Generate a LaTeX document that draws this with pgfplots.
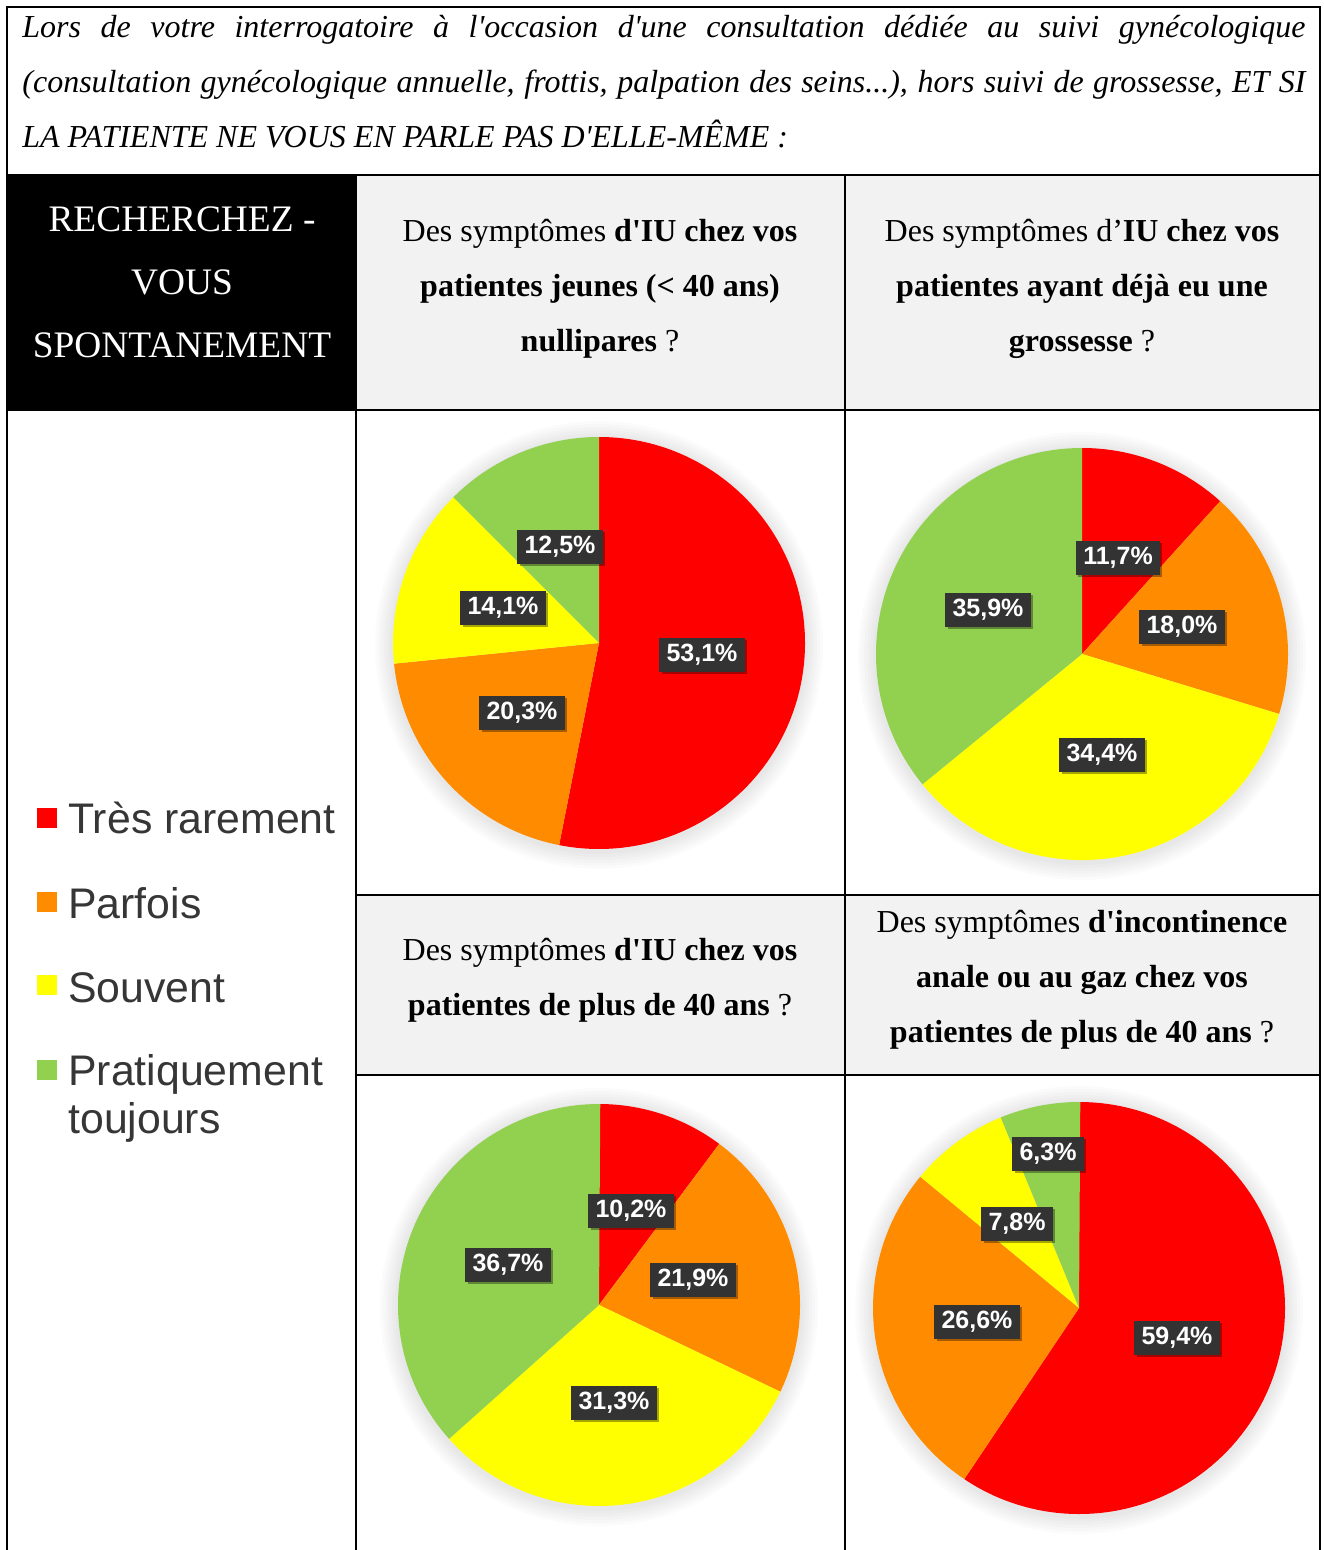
\documentclass[border=0pt]{standalone}
\usepackage{pgfplots}
\pgfplotsset{compat=1.18}
\usetikzlibrary{shadows}
\usepackage{fontspec}
\setmainfont{Liberation Serif}
\newfontfamily\lsans{Liberation Sans}
\definecolor{cRed}{HTML}{FF0000}
\definecolor{cOrange}{HTML}{FF8C00}
\definecolor{cYellow}{HTML}{FFFF00}
\definecolor{cGreen}{HTML}{92D050}
\definecolor{cellgray}{HTML}{F2F2F2}
\definecolor{boxgray}{HTML}{333333}
\definecolor{legtext}{HTML}{363636}
\newcommand\sq{\textquotesingle}
% one wedge: start angle, end angle, colour, radius (axis units = px)
\newcommand\pieWedge[4]{%
  \pgfmathsetmacro\rrpt{#4*0.5}%
  \edef\tmp{\noexpand\fill[#3] (axis cs:0,0) -- (axis cs:{#4*cos(#1)},{#4*sin(#1)}) arc[start angle=#1, end angle=#2, radius=\rrpt pt] -- cycle;}%
  \tmp}
% radius, then percentages clockwise from 12 o'clock: red, orange, yellow, green
\newcommand\pieslices[5]{%
  \foreach \k in {1,...,6}{%
    \pgfmathsetmacro\hr{(#1+3*\k)*0.5}%
    \edef\tmp{\noexpand\fill[black,opacity=0.015] (axis cs:0,-2) circle[radius=\hr pt];}\tmp}%
  \pgfmathsetmacro\aA{90}%
  \pgfmathsetmacro\aB{90-3.6*#2}%
  \pgfmathsetmacro\aC{\aB-3.6*#3}%
  \pgfmathsetmacro\aD{\aC-3.6*#4}%
  \pgfmathsetmacro\aE{\aD-3.6*#5}%
  \pieWedge{\aA}{\aB}{cRed}{#1}%
  \pieWedge{\aB}{\aC}{cOrange}{#1}%
  \pieWedge{\aC}{\aD}{cYellow}{#1}%
  \pieWedge{\aD}{\aE}{cGreen}{#1}%
}
\tikzset{lbl/.style={fill=boxgray, text=white, font=\lsans\bfseries\fontsize{12.5}{12.5}\selectfont,
  inner xsep=3.6pt, inner ysep=0pt, minimum height=17pt,
  drop shadow={shadow xshift=1.2pt, shadow yshift=-1.2pt, opacity=0.35, fill=black}}}
\pgfplotsset{pieaxis/.style={anchor=center, x=0.5pt, y=0.5pt, xmin=-230, xmax=230,
  ymin=-230, ymax=230, hide axis, clip=false}}
\begin{document}
\begin{tikzpicture}
\path[use as bounding box] (0,0) rectangle (661.5pt,-775pt);
\begin{scope}[x=0.5pt, y=-0.5pt]
  \fill[white] (0,0) rectangle (1323,1550);
  \fill[black] (7,175) rectangle (356,410);
  \fill[cellgray] (356,175) rectangle (1320,410);
  \fill[cellgray] (356,895) rectangle (1320,1075);
  \begin{scope}[line width=1.3pt]
    \draw (7,1560) -- (7,7) -- (1320,7) -- (1320,1560);
    \draw (7,175) -- (1320,175);
    \draw (7,410) -- (1320,410);
    \draw (356,175) -- (356,1560);
    \draw (845,175) -- (845,1560);
    \draw (356,895) -- (1320,895);
    \draw (356,1075) -- (1320,1075);
  \end{scope}
  % top text
  \begin{scope}[every node/.style={inner sep=0pt, anchor=base west, font=\itshape\fontsize{16}{16}\selectfont}]
    \node at (22,38) {\makebox[641.5pt][s]{Lors de votre interrogatoire à l\sq occasion d\sq une consultation dédiée au suivi gynécologique}};
    \node at (22,93) {\makebox[641.5pt][s]{(consultation gynécologique annuelle, frottis, palpation des seins...), hors suivi de grossesse, ET SI}};
    \node at (22,148) {LA PATIENTE NE VOUS EN PARLE PAS D\sq ELLE-MÊME :};
  \end{scope}
  % black cell
  \begin{scope}[every node/.style={inner sep=0pt, anchor=base, text=white, font=\fontsize{18.7}{18.7}\selectfont}]
    \node at (182,232) {RECHERCHEZ -};
    \node at (182,295) {VOUS};
    \node at (182,358) {SPONTANEMENT};
  \end{scope}
  % grey headers
  \begin{scope}[every node/.style={inner sep=0pt, anchor=base, font=\fontsize{16}{16}\selectfont}]
    \node at (600,242) {Des symptômes \textbf{d\sq IU chez vos}};
    \node at (600,297) {\textbf{patientes jeunes (< 40 ans)}};
    \node at (600,352) {\textbf{nullipares} ?};
    \node at (1082,242) {Des symptômes d’\textbf{IU chez vos}};
    \node at (1082,297) {\textbf{patientes ayant déjà eu une}};
    \node at (1082,352) {\textbf{grossesse} ?};
    \node at (600,960) {Des symptômes \textbf{d\sq IU chez vos}};
    \node at (600,1015) {\textbf{patientes de plus de 40 ans} ?};
    \node at (1082,932) {Des symptômes \textbf{d\sq incontinence}};
    \node at (1082,987) {\textbf{anale ou au gaz chez vos}};
    \node at (1082,1042) {\textbf{patientes de plus de 40 ans} ?};
  \end{scope}
  % legend
  \fill[cRed] (37,808) rectangle (57,828);
  \fill[cOrange] (37,892) rectangle (57,912);
  \fill[cYellow] (37,975) rectangle (57,995);
  \fill[cGreen] (37,1060) rectangle (57,1080);
  \begin{scope}[every node/.style={inner sep=0pt, anchor=base west, text=legtext, font=\lsans\fontsize{21.4}{21.4}\selectfont}]
    \node at (68,833) {Très rarement};
    \node at (68,918) {Parfois};
    \node at (68,1002) {Souvent};
    \node at (68,1085) {Pratiquement};
    \node at (68,1133) {toujours};
  \end{scope}
  \coordinate (C1) at (599,643);
  \coordinate (C2) at (1082,654);
  \coordinate (C3) at (599,1305);
  \coordinate (C4) at (1079,1308);
\end{scope}

% pie 1: jeunes nullipares
\begin{axis}[pieaxis, at={(C1)}]
  \pieslices{206}{53.1}{20.3}{14.1}{12.5}
  \node[lbl] at (axis cs:-39,96) {12,5\%};
  \node[lbl] at (axis cs:-96,35) {14,1\%};
  \node[lbl] at (axis cs:103,-12) {53,1\%};
  \node[lbl] at (axis cs:-77,-70) {20,3\%};
\end{axis}
% pie 2: deja eu une grossesse
\begin{axis}[pieaxis, at={(C2)}]
  \pieslices{206}{11.7}{18.0}{34.4}{35.9}
  \node[lbl] at (axis cs:36,96) {11,7\%};
  \node[lbl] at (axis cs:100,27) {18,0\%};
  \node[lbl] at (axis cs:-94,44) {35,9\%};
  \node[lbl] at (axis cs:20,-101) {34,4\%};
\end{axis}
% pie 3: plus de 40 ans
\begin{axis}[pieaxis, at={(C3)}]
  \pieslices{201}{10.2}{21.9}{31.3}{36.7}
  \node[lbl] at (axis cs:32,94) {10,2\%};
  \node[lbl] at (axis cs:94,25) {21,9\%};
  \node[lbl] at (axis cs:-91,40) {36,7\%};
  \node[lbl] at (axis cs:15,-98) {31,3\%};
\end{axis}
% pie 4: incontinence anale
\begin{axis}[pieaxis, at={(C4)}]
  \pieslices{206}{59.4}{26.6}{7.8}{6.3}
  \node[lbl] at (axis cs:-31,154) {6,3\%};
  \node[lbl] at (axis cs:-62,84) {7,8\%};
  \node[lbl] at (axis cs:-102,-14) {26,6\%};
  \node[lbl] at (axis cs:98,-30) {59,4\%};
\end{axis}
\end{tikzpicture}
\end{document}
